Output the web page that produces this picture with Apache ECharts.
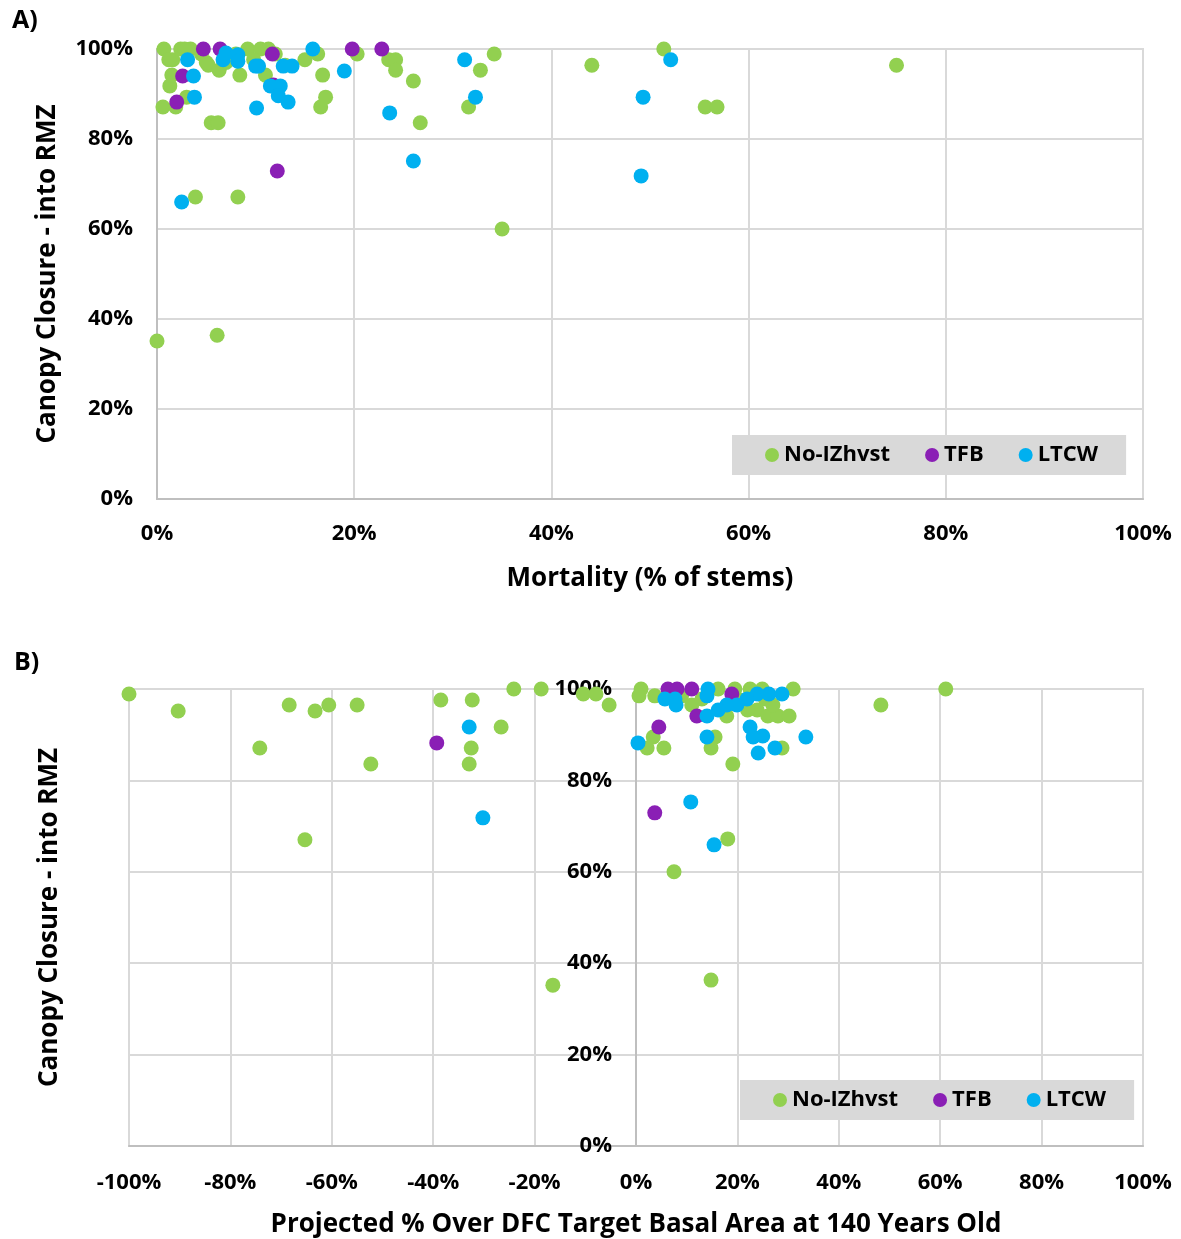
<!DOCTYPE html>
<html>
<head>
<meta charset="utf-8">
<script src="https://cdn.jsdelivr.net/npm/echarts@6/dist/echarts.min.js"></script>
<style>
  html, body { margin: 0; padding: 0; background: #fff; }
  #main { width: 1181px; height: 1239px; }
</style>
</head>
<body>
<div id="main"></div>
<script>
// panel A: [mortality %, canopy closure %]
var aNoIZ = [[0.7,100],[0.6,87.1],[1.3,91.8],[1.5,94.2],[1.6,97.6],[2.4,100],[1.9,87.1],[3.4,100],
  [3.9,67.1],[5.2,96.4],[5.5,83.6],[6.2,83.6],[6.3,95.3],[7,97],[8.2,67.1],[8.4,94.2],[9.2,100],
  [10.5,100],[11.3,100],[11,94.2],[15,97.6],[16.3,98.9],[16.6,87.1],[16.8,94.2],[17.1,89.3],
  [20.3,98.9],[23.5,97.6],[24.2,97.6],[24.2,95.3],[26,92.9],[26.7,83.6],[32.8,95.3],[31.6,87.1],
  [34.2,98.9],[35,60],[44.1,96.4],[51.4,100],[55.6,87.1],[56.8,87.1],[75,96.4],[0,35.1],[6.1,36.4],
  [1.2,97.6],[2.8,100],[4.5,98.9],[5,97],[8,98.9],[9.8,97.6],[12,98.9],[13,96.4],[3,89.3]];
var aTFB = [[4.7,100],[6.4,100],[11.7,98.9],[2.6,94],[2.0,88.2],[12.2,72.9],[19.8,100],[22.8,100],[11.8,92]];
var aLTCW = [[3.1,97.6],[3.7,94],[3.8,89.3],[2.5,66],[6.7,97.6],[7.0,99.1],[8.2,98.7],[8.2,97.3],
  [10.1,86.9],[10,96.2],[10.3,96.2],[11.5,91.8],[12.5,91.8],[12.3,89.6],[13.3,88.2],[12.8,96.2],
  [13.7,96.2],[15.8,100],[19,95.1],[31.2,97.6],[23.6,85.8],[32.3,89.3],[26,75.1],[49.3,89.3],
  [52.1,97.6],[49.1,71.8]];

// panel B: [projected % over DFC target, canopy closure %]
var bNoIZ = [[-100,98.9],[-90.3,95.2],[-68.4,96.5],[-63.3,95.2],[-60.6,96.5],[-55,96.5],[-74.2,87.1],
  [-52.3,83.6],[-38.5,97.6],[-32.3,97.6],[-24.1,100],[-18.7,100],[-26.6,91.7],[-32.5,87.1],[-32.9,83.6],
  [-65.3,67],[-16.4,35.2],[-10.4,98.9],[-7.9,98.9],[-5.3,96.5],[1,100],[0.6,98.5],[3.7,98.5],
  [16.2,100],[19.5,100],[22.5,100],[24.9,100],[31,100],[17.9,94.1],[23.9,95.4],[26,94.1],[28,94.1],
  [30.2,94.1],[3.4,89.5],[2.2,87.1],[5.5,87.1],[15.6,89.5],[14.8,87.1],[28.8,87.1],[19.1,83.6],
  [18.1,67.2],[7.5,60],[14.8,36.3],[61.1,100],[48.3,96.5],[9,98.5],[11,96.5],[13,97.8],[20.5,97.6],
  [22,95.4],[25.5,97.8],[27,96.5]];
var bTFB = [[-39.3,88.2],[6.3,100],[8.1,100],[11,100],[18.9,98.9],[12,94.1],[4.5,91.7],[3.7,72.9]];
var bLTCW = [[-32.9,91.7],[-30.2,71.8],[14.2,100],[14,98.5],[5.7,97.8],[7.7,97.8],[7.9,96.5],
  [23.9,98.9],[26.2,98.9],[28.8,98.9],[21.9,97.8],[19.9,96.5],[17.9,96.5],[16.2,95.4],[14,94.1],
  [22.5,91.7],[23.1,89.5],[25,89.7],[33.5,89.5],[0.4,88.2],[14,89.5],[24.1,86],[27.4,87.1],
  [10.8,75.3],[15.4,65.9]];

var seriesNames = ['No-IZhvst', 'TFB', 'LTCW'];
var colors = ['#92d050', '#8a1fb5', '#00b0f0'];

var FONT = '"Open Sans", sans-serif';
var gridColor = '#d9d9d9';
var axisColor = '#bfbfbf';

function tickLabel(margin) {
  return { formatter: '{value}%', margin: margin, fontFamily: FONT, fontWeight: 'bold', fontSize: 22, color: '#000', hideOverlap: false };
}

function valueAxis(gridIndex, min, max, interval, extra) {
  var ax = {
    type: 'value',
    gridIndex: gridIndex,
    min: min, max: max, interval: interval,
    axisLine: { show: true, onZero: false, lineStyle: { color: axisColor, width: 2 } },
    axisTick: { show: false },
    splitLine: { show: true, lineStyle: { color: gridColor, width: 2 } },
    nameLocation: 'middle',
    nameTextStyle: { fontFamily: FONT, fontWeight: 'bold', fontSize: 26, color: '#000' }
  };
  for (var k in extra) ax[k] = extra[k];
  return ax;
}

function legendAt(left, top) {
  return {
    left: left, top: top,
    data: seriesNames,
    icon: 'circle',
    itemWidth: 14, itemHeight: 14,
    itemGap: 35,
    backgroundColor: '#d9d9d9',
    padding: [9, 28, 9, 33],
    borderRadius: 0,
    textStyle: { fontFamily: FONT, fontWeight: 'bold', fontSize: 22, color: '#000' }
  };
}

var chart = echarts.init(document.getElementById('main'));

var panelData = [[aNoIZ, aTFB, aLTCW], [bNoIZ, bTFB, bLTCW]];
var series = [];
for (var p = 0; p < 2; p++) {
  for (var s = 0; s < 3; s++) {
    series.push({
      name: seriesNames[s],
      type: 'scatter',
      xAxisIndex: p, yAxisIndex: p,
      symbolSize: 15,
      itemStyle: { color: colors[s], opacity: 1 },
      data: panelData[p][s]
    });
  }
}

var option = {
  backgroundColor: '#fff',
  animation: false,
  title: [
    { text: 'A)', left: 7, top: 3, textStyle: { fontFamily: FONT, fontWeight: 'bold', fontSize: 25, color: '#000' } },
    { text: 'B)', left: 9, top: 645, textStyle: { fontFamily: FONT, fontWeight: 'bold', fontSize: 25, color: '#000' } }
  ],
  color: colors,
  legend: [legendAt(732, 435), legendAt(740, 1080)],
  grid: [
    { left: 157, top: 49, width: 986, height: 450, show: true, borderColor: gridColor, borderWidth: 2, outerBoundsMode: 'none', containLabel: false },
    { left: 129, top: 689, width: 1014, height: 457, show: true, borderColor: gridColor, borderWidth: 2, outerBoundsMode: 'none', containLabel: false }
  ],
  xAxis: [
    valueAxis(0, 0, 100, 20, { name: 'Mortality (% of stems)', nameGap: 67, axisLabel: tickLabel(24) }),
    valueAxis(1, -100, 100, 20, { name: 'Projected % Over DFC Target Basal Area at 140 Years Old', nameGap: 66, axisLabel: tickLabel(26) })
  ],
  yAxis: [
    valueAxis(0, 0, 100, 20, { name: 'Canopy Closure - into RMZ', nameGap: 96, axisLabel: tickLabel(24) }),
    // y axis of panel B sits on x = 0, so it is shifted right by half the plot width
    valueAxis(1, 0, 100, 20, { name: 'Canopy Closure - into RMZ', nameGap: 573, offset: -507,
      axisLabel: tickLabel(24) })
  ],
  series: series
};

chart.setOption(option);
</script>
</body>
</html>
